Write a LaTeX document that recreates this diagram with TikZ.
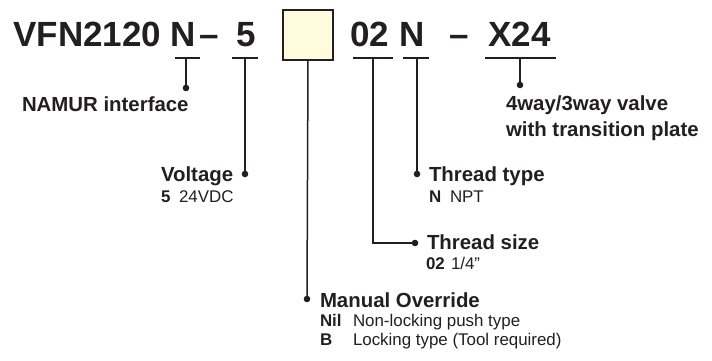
\documentclass[tikz,border=0pt]{standalone}
\usepackage{fontspec}
\setmainfont{Liberation Sans}
\definecolor{ink}{HTML}{231F20}
\definecolor{cream}{HTML}{FFFBDC}
\begin{document}
\begin{tikzpicture}[x=1pt,y=-1pt,
  every node/.style={inner sep=0pt,outer sep=0pt,text=ink},
  title/.style={font=\fontsize{35}{40}\selectfont\bfseries,anchor=base},
  head/.style={font=\fontsize{20.4}{24}\selectfont\bfseries,anchor=base west},
  sub/.style={font=\fontsize{16.9}{20}\selectfont,anchor=base west},
  wire/.style={draw=ink,line width=1.5pt},
  uline/.style={draw=ink,line width=1.8pt},
  codebox/.style={draw=ink,line width=1.6pt,fill=cream,minimum width=50pt,minimum height=50pt}]
\useasboundingbox (0,0) rectangle (712,360);
% title parts
\node[title,anchor=base west] (t1) at (13.5,46.5) {VFN2120};
\node[title] (n1) at (183,46.5) {N};
\node[title] (d1) at (209,46) {–};
\node[title] (t5) at (246,46.5) {5};
\node[codebox] (box) at (308,35) {};
\node[title] (t02) at (370,46.5) {02};
\node[title] (n2) at (412.5,46.5) {N};
\node[title] (d2) at (459,46) {–};
\node[title] (tx) at (519.5,46.5) {X24};
% underline ends
\coordinate (u1a) at (175,58); \coordinate (u1b) at (200,58);
\coordinate (u2a) at (232,58); \coordinate (u2b) at (258,58);
\coordinate (u4a) at (353,58); \coordinate (u4b) at (393,58);
\coordinate (u5a) at (403,58); \coordinate (u5b) at (429,58);
\coordinate (u6a) at (485,58); \coordinate (u6b) at (556,58);
\draw[uline] (u1a) -- (u1b);
\draw[uline] (u2a) -- (u2b);
\draw[uline] (u4a) -- (u4b);
\draw[uline] (u5a) -- (u5b);
\draw[uline] (u6a) -- (u6b);
% stem tops
\coordinate (s1) at (186,58);
\coordinate (s2) at (245,58);
\coordinate (s4) at (373,58);
\coordinate (s5) at (417,58);
\coordinate (s6) at (520,58);
% dots
\coordinate (p1) at (186,88);
\coordinate (p2) at (245,174);
\coordinate (p3) at (307,299);
\coordinate (k4) at (373,243);
\coordinate (p4) at (415,243);
\coordinate (p5) at (417,174);
\coordinate (p6) at (520,85);
\draw[wire] (s1) -- (p1);
\draw[wire] (s2) -- (p2);
\draw[wire] (box.south) -- (p3);
\draw[wire] (s4) -- (k4) -- (p4);
\draw[wire] (s5) -- (p5);
\draw[wire] (s6) -- (p6);
\foreach \p in {p1,p2,p3,p4,p5,p6} \fill[ink] (\p) circle (3.3);
% labels
\node[head] (l1) at (22,111) {NAMUR interface};
\node[head] (l2) at (161,181.5) {Voltage};
\node[sub] (l2a) at (161,202.5) {\makebox[18pt][l]{\bfseries 5}24VDC};
\node[head] (l5) at (429,181.5) {Thread type};
\node[sub] (l5a) at (429,202.5) {\makebox[21pt][l]{\bfseries N}NPT};
\node[head] (l4) at (427,249) {Thread size};
\node[sub] (l4a) at (426,269) {\makebox[25pt][l]{\bfseries 02}1/4”};
\node[head] (l3) at (320,307) {Manual Override};
\node[sub] (l3a) at (320,326.5) {\makebox[33pt][l]{\bfseries Nil}Non-locking push type};
\node[sub] (l3b) at (320,345) {\makebox[33pt][l]{\bfseries B}Locking type (Tool required)};
\node[head] (l6) at (506,110) {4way/3way valve};
\node[head] (l6a) at (506,136) {with transition plate};
\end{tikzpicture}
\end{document}
